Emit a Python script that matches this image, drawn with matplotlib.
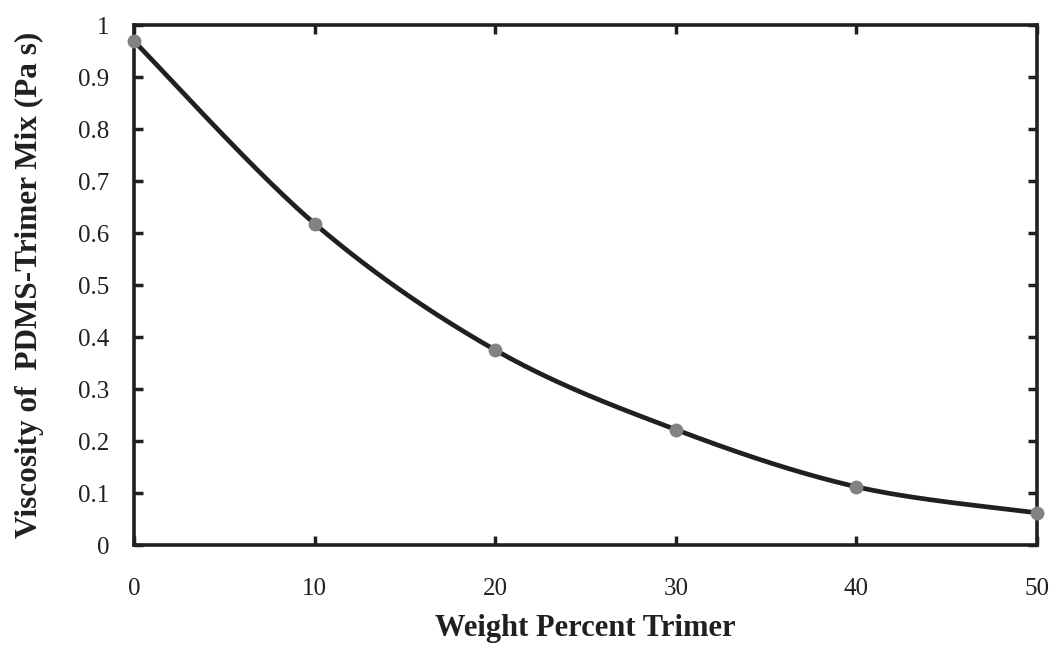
import numpy as np
import matplotlib
matplotlib.use("Agg")
import matplotlib.pyplot as plt

weight_pct = [0, 10, 20, 30, 40, 50]
viscosity = [0.969, 0.618, 0.375, 0.222, 0.112, 0.062]
x_ticks = [0, 10, 20, 30, 40, 50]
y_ticks = [0, 0.1, 0.2, 0.3, 0.4, 0.5, 0.6, 0.7, 0.8, 0.9, 1]
y_tick_labels = ["0", "0.1", "0.2", "0.3", "0.4", "0.5", "0.6", "0.7", "0.8", "0.9", "1"]

plt.rcParams['font.family'] = ['Liberation Serif', 'DejaVu Serif']

fig = plt.figure(figsize=(10.52, 6.46), dpi=100)
ax = fig.add_axes([0.1274, 0.1563, 0.8583, 0.805])
ax.set_xlim(0, 50)
ax.set_ylim(0, 1)

# Excel-style smoothed line (cubic Bezier, control points from neighbours / 6)
W, H = 903.0, 520.0
px = np.array(weight_pct) / 50.0 * W
py = np.array(viscosity) / 1.0 * H
P = np.column_stack([px, py])
curve = []
t = np.linspace(0, 1, 60)[:, None]
n = len(P)
for i in range(n - 1):
    p0 = P[i - 1] if i > 0 else P[i]
    p1 = P[i]
    p2 = P[i + 1]
    p3 = P[i + 2] if i + 2 < n else P[i + 1]
    c1 = p1 + (p2 - p0) / 6.0
    c2 = p2 - (p3 - p1) / 6.0
    seg = ((1 - t) ** 3) * p1 + 3 * ((1 - t) ** 2) * t * c1 + 3 * (1 - t) * t ** 2 * c2 + t ** 3 * p2
    curve.append(seg)
curve = np.vstack(curve)
ax.plot(curve[:, 0] / W * 50.0, curve[:, 1] / H * 1.0, color='#231f20', lw=3.4,
        solid_capstyle='round', zorder=3, clip_on=False)
ax.plot(weight_pct, viscosity, 'o', color='#808285', markersize=10, zorder=4, clip_on=False,
        markeredgewidth=0)

ax.set_xticks(x_ticks)
ax.set_yticks(y_ticks)
ax.set_yticklabels(y_tick_labels)
ax.tick_params(direction='in', length=6.5, width=2.5, color='#231f20', labelsize=18,
               top=True, right=True, labelcolor='#231f20')
ax.tick_params(axis='y', pad=18)
ax.tick_params(axis='x', pad=24)
for s in ax.spines.values():
    s.set_linewidth(2.6)
    s.set_color('#231f20')

ax.set_xlabel('Weight Percent Trimer', fontsize=22, fontweight='bold', color='#231f20', labelpad=10)
ax.set_ylabel('Viscosity of  PDMS-Trimer Mix (Pa s)', fontsize=22.5, fontweight='bold', color='#231f20', labelpad=24)

fig.savefig('out.png', dpi=100)
